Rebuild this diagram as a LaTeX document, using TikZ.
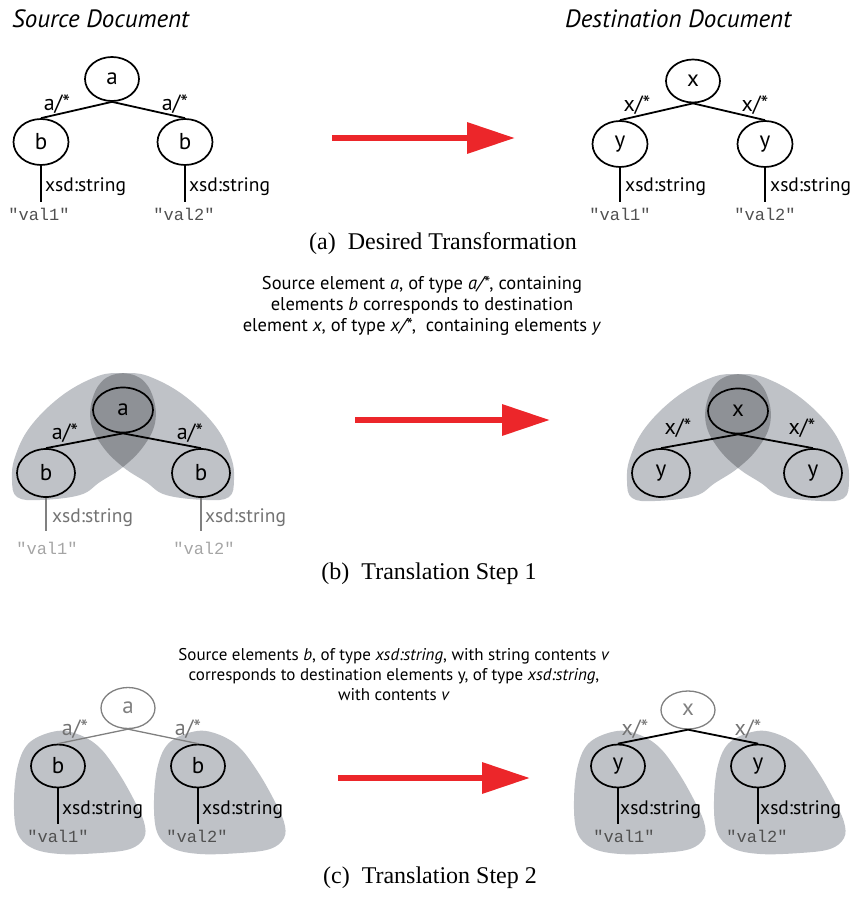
\documentclass[tikz,border=0pt]{standalone}
\usepackage{fontspec}
\setmainfont{Liberation Serif}
\setsansfont{PT Sans}
\setmonofont{Liberation Mono}
\usetikzlibrary{arrows.meta,shapes.geometric}

\definecolor{lobefill}{RGB}{191,194,199}
\definecolor{lobedark}{RGB}{142,145,150}
\definecolor{bigred}{RGB}{236,38,42}
\definecolor{greyline}{RGB}{128,128,128}
\definecolor{greytext}{RGB}{115,115,115}
\definecolor{paletext}{RGB}{165,165,165}
\definecolor{valtext}{RGB}{80,80,80}

\tikzset{
  elem/.style={ellipse, draw=black, line width=1.7pt, inner sep=0pt,
    minimum width=55pt, minimum height=46pt,
    font=\sffamily\fontsize{23}{23}\selectfont},
  faintelem/.style={elem, draw=greyline, line width=1.3pt, text=greyline},
  link/.style={line width=1.8pt, black},
  faintlink/.style={line width=1.3pt, greyline},
  typelbl/.style={inner sep=0pt, font=\sffamily\fontsize{22}{22}\selectfont},
  strlbl/.style={inner sep=0pt, anchor=west, font=\sffamily\fontsize{19.5}{19.5}\selectfont},
  vallbl/.style={inner sep=0pt, text=valtext, font=\ttfamily\fontsize{17}{17}\selectfont},
  doctitle/.style={inner sep=0pt, anchor=base west, font=\sffamily\itshape\fontsize{25}{25}\selectfont},
  subcap/.style={inner sep=0pt, anchor=base, font=\fontsize{24}{24}\selectfont},
  note/.style={inner sep=0pt, align=center, font=\sffamily\fontsize{18.5}{21}\selectfont},
  bigarrow/.style={line width=6.5pt, bigred, -{Triangle[length=48pt,width=30pt]}},
  % two overlapping lobes around a parent and its two children
  twinlobes/.pic={
    \fill[lobefill] plot[smooth cycle, tension=0.65] coordinates {
      (-30,-32) (-6,-37) (17,-32) (30,-13) (32,13) (20,37) (0,57)
      (-23,72) (-43,85) (-83,90) (-106,87) (-111,70) (-108,47) (-93,17) (-63,-13)};
    \begin{scope}[xscale=-1]
      \fill[lobefill] plot[smooth cycle, tension=0.65] coordinates {
        (-30,-32) (-6,-37) (17,-32) (30,-13) (32,13) (20,37) (0,57)
        (-23,72) (-43,85) (-83,90) (-106,87) (-111,70) (-108,47) (-93,17) (-63,-13)};
    \end{scope}
    \begin{scope}
      \clip plot[smooth cycle, tension=0.65] coordinates {
        (-30,-32) (-6,-37) (17,-32) (30,-13) (32,13) (20,37) (0,57)
        (-23,72) (-43,85) (-83,90) (-106,87) (-111,70) (-108,47) (-93,17) (-63,-13)};
      \begin{scope}[xscale=-1]
        \fill[lobedark] plot[smooth cycle, tension=0.65] coordinates {
          (-30,-32) (-6,-37) (17,-32) (30,-13) (32,13) (20,37) (0,57)
          (-23,72) (-43,85) (-83,90) (-106,87) (-111,70) (-108,47) (-93,17) (-63,-13)};
      \end{scope}
    \end{scope}
  },
  % one leaf-shaped lobe around a child and its string value
  leaflobe/.pic={
    \fill[lobefill] plot[smooth cycle, tension=0.6] coordinates {
      (-1,-35) (22,-31) (42,-18) (60,6) (75,32) (86,56) (86,72) (72,83)
      (42,87) (2,88) (-26,82) (-41,66) (-44,34) (-40,-1) (-28,-24)};
  }
}

\begin{document}
\begin{tikzpicture}[x=1pt, y=-1pt]
\useasboundingbox (0,0) rectangle (850,901);

% ---------------- (a) desired transformation ----------------
\node[doctitle] (srctitle) at (12,28) {Source Document};
\node[doctitle] (dsttitle) at (565,28) {Destination Document};

\node[elem, minimum width=54pt, minimum height=44pt] (a0) at (112,79) {a};
\node[elem] (b1) at (41,142) {b};
\node[elem] (b2) at (185,142) {b};
\draw[link] (a0.south) -- (b1.north);
\draw[link] (a0.south) -- (b2.north);
\node[typelbl] (ta1) at (57,104) {a/*};
\node[typelbl] (ta2) at (175,104) {a/*};
\coordinate (e1) at (41,202);
\coordinate (e2) at (185,202);
\draw[link] (b1.south) -- (e1);
\draw[link] (b2.south) -- (e2);
\node[strlbl] (s1) at (45,187) {xsd:string};
\node[strlbl] (s2) at (189,187) {xsd:string};
\node[vallbl] (v1) at (39,214) {"val1"};
\node[vallbl] (v2) at (184,214) {"val2"};

\node[elem, minimum width=54pt, minimum height=43pt] (x0) at (693,81) {x};
\node[elem] (y1) at (620,144) {y};
\node[elem] (y2) at (765,144) {y};
\draw[link] (x0.south) -- (y1.north);
\draw[link] (x0.south) -- (y2.north);
\node[typelbl] (tx1) at (637,105) {x/*};
\node[typelbl] (tx2) at (755,105) {x/*};
\coordinate (f1) at (620,202);
\coordinate (f2) at (765,202);
\draw[link] (y1.south) -- (f1);
\draw[link] (y2.south) -- (f2);
\node[strlbl] (r1) at (625,187) {xsd:string};
\node[strlbl] (r2) at (770,187) {xsd:string};
\node[vallbl] (w1) at (620,214) {"val1"};
\node[vallbl] (w2) at (765,214) {"val2"};

\coordinate (pa) at (332,138);
\coordinate (qa) at (515,138);
\draw[bigarrow] (pa) -- (qa);

\node[subcap] (capa) at (443,249) {(a)\enspace Desired Transformation};

% ---------------- (b) translation step 1 ----------------
\node[note] (noteb) at (422,306) {Source element \textit{a}, of type \textit{a/*}, containing\\
  elements \textit{b} corresponds to destination\\
  element \textit{x}, of type \textit{x/*},\ \ containing elements \textit{y}};

\pic at (123,410) {twinlobes};
\pic at (738,411) {twinlobes};

\node[elem, fill=lobedark, minimum width=60pt, minimum height=45pt] (ba) at (123,410) {a};
\node[elem, minimum width=58pt, minimum height=48pt] (bb1) at (46,473) {b};
\node[elem, minimum width=58pt, minimum height=48pt] (bb2) at (201,473) {b};
\draw[link] (ba.south) -- (bb1.north);
\draw[link] (ba.south) -- (bb2.north);
\node[typelbl] (bta1) at (65,433) {a/*};
\node[typelbl] (bta2) at (190,433) {a/*};
\coordinate (be1) at (46,531);
\coordinate (be2) at (201,531);
\draw[faintlink] (bb1.south) -- (be1);
\draw[faintlink] (bb2.south) -- (be2);
\node[strlbl, text=greytext] (bs1) at (52,518) {xsd:string};
\node[strlbl, text=greytext] (bs2) at (205,518) {xsd:string};
\node[vallbl, text=paletext] (bv1) at (47,548) {"val1"};
\node[vallbl, text=paletext] (bv2) at (204,548) {"val2"};

\node[elem, fill=lobedark, minimum width=60pt, minimum height=45pt] (bx) at (738,411) {x};
\node[elem, minimum width=58pt, minimum height=48pt] (by1) at (661,473) {y};
\node[elem, minimum width=58pt, minimum height=48pt] (by2) at (813,473) {y};
\draw[link] (bx.south) -- (by1.north);
\draw[link] (bx.south) -- (by2.north);
\node[typelbl] (btx1) at (678,428) {x/*};
\node[typelbl] (btx2) at (802,428) {x/*};

\coordinate (pb) at (355,420);
\coordinate (qb) at (550,420);
\draw[bigarrow] (pb) -- (qb);

\node[subcap] (capb) at (429,579) {(b)\enspace Translation Step 1};

% ---------------- (c) translation step 2 ----------------
\node[note, font=\sffamily\fontsize{17}{20}\selectfont] (notec) at (394,675)
  {Source elements \textit{b}, of type \textit{xsd:string}, with string contents \textit{v}\\
   corresponds to destination elements y, of type \textit{xsd:string},\\
   with contents \textit{v}};

\pic at (58,766) {leaflobe};
\pic at (198,766) {leaflobe};
\pic at (618,766) {leaflobe};
\pic at (758,766) {leaflobe};

\node[faintelem, minimum width=54pt, minimum height=41pt] (ca) at (128,708) {a};
\node[elem, minimum width=54pt, minimum height=43pt] (cb1) at (58,766) {b};
\node[elem, minimum width=54pt, minimum height=43pt] (cb2) at (198,766) {b};
\draw[faintlink] (ca.south) -- (cb1.north);
\draw[faintlink] (ca.south) -- (cb2.north);
\node[typelbl, text=greytext] (cta1) at (75,729) {a/*};
\node[typelbl, text=greytext] (cta2) at (188,729) {a/*};
\coordinate (ce1) at (58,824);
\coordinate (ce2) at (198,824);
\draw[link] (cb1.south) -- (ce1);
\draw[link] (cb2.south) -- (ce2);
\node[strlbl] (cs1) at (62,810) {xsd:string};
\node[strlbl] (cs2) at (202,810) {xsd:string};
\node[vallbl] (cv1) at (58,836) {"val1"};
\node[vallbl] (cv2) at (197,836) {"val2"};

\node[faintelem, minimum width=54pt, minimum height=38pt] (cx) at (688,710) {x};
\node[elem, minimum width=54pt, minimum height=43pt] (cy1) at (618,766) {y};
\node[elem, minimum width=54pt, minimum height=43pt] (cy2) at (758,766) {y};
\draw[link] (cx.south) -- (cy1.north);
\draw[link] (cx.south) -- (cy2.north);
\node[typelbl, text=greytext] (ctx1) at (635,729) {x/*};
\node[typelbl, text=greytext] (ctx2) at (748,729) {x/*};
\coordinate (cf1) at (618,824);
\coordinate (cf2) at (758,824);
\draw[link] (cy1.south) -- (cf1);
\draw[link] (cy2.south) -- (cf2);
\node[strlbl] (cr1) at (620,810) {xsd:string};
\node[strlbl] (cr2) at (760,810) {xsd:string};
\node[vallbl] (cw1) at (624,836) {"val1"};
\node[vallbl] (cw2) at (757,836) {"val2"};

\coordinate (pc) at (338,778);
\coordinate (qc) at (530,778);
\draw[bigarrow] (pc) -- (qc);

\node[subcap] (capc) at (430,883) {(c)\enspace Translation Step 2};
\end{tikzpicture}
\end{document}
